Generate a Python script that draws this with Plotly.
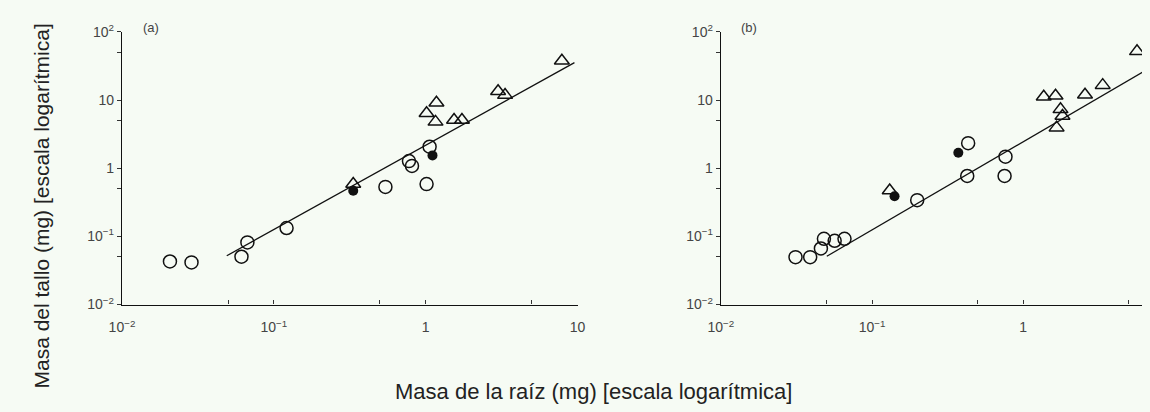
import plotly.graph_objects as go

# ---------------- data (log10 values) ----------------
# Panel (a)
a_circ_x = [-1.684, -1.542, -1.213, -1.174, -0.916, -0.265, -0.110, -0.090, 0.006, 0.026]
a_circ_y = [-1.368, -1.382, -1.298, -1.088, -0.877, -0.274, 0.105, 0.035, -0.232, 0.316]
a_fill_x = [-0.477, 0.045]
a_fill_y = [-0.330, 0.189]
a_tri_x = [-0.477, 0.071, 0.006, 0.065, 0.187, 0.239, 0.477, 0.523, 0.897]
a_tri_y = [-0.232, 0.961, 0.807, 0.681, 0.709, 0.709, 1.130, 1.074, 1.579]
a_line_x = [-1.31, 0.98]
a_line_y = [-1.284, 1.551]

# Panel (b)
b_circ_x = [-1.506, -1.409, -1.338, -1.318, -1.247, -1.182, -0.701, -0.370, -0.123, -0.117, -0.364]
b_circ_y = [-1.305, -1.305, -1.177, -1.035, -1.064, -1.035, -0.468, -0.113, -0.113, 0.170, 0.369]
b_fill_x = [-0.429, -0.851]
b_fill_y = [0.227, -0.411]
b_tri_x = [-0.883, 0.136, 0.214, 0.409, 0.526, 0.753, 0.247, 0.260, 0.221]
b_tri_y = [-0.326, 1.050, 1.064, 1.078, 1.220, 1.716, 0.865, 0.766, 0.596]
b_line_x = [-1.299, 0.80]
b_line_y = [-1.291, 1.424]

y_tickvals = [0.01, 0.1, 1, 10, 100]
y_ticktext = ["10<sup>−2</sup>", "10<sup>−1</sup>", "1", "10", "10<sup>2</sup>"]
y_minorvals = [0.05, 0.5, 5, 50]
x_tickvals = [0.01, 0.1, 1, 10]
x_ticktext = ["10<sup>−2</sup>", "10<sup>−1</sup>", "1", "10"]
x_minorvals = [0.05, 0.5, 5]

title_x = "Masa de la raíz (mg) [escala logarítmica]"
title_y = "Masa del tallo (mg) [escala logarítmica]"

p = lambda v: [10 ** t for t in v]

fig = go.Figure()

def add_panel(xa, ya, cx, cy, fx, fy, tx, ty, lx, ly):
    fig.add_trace(go.Scatter(x=p(lx), y=p(ly), mode="lines",
                             line=dict(color="#111", width=1.3),
                             xaxis=xa, yaxis=ya, showlegend=False))
    fig.add_trace(go.Scatter(x=p(cx), y=p(cy), mode="markers",
                             marker=dict(symbol="circle-open", size=13,
                                         color="#111", line=dict(width=1.5)),
                             xaxis=xa, yaxis=ya, showlegend=False))
    fig.add_trace(go.Scatter(x=p(tx), y=p(ty), mode="markers",
                             marker=dict(symbol="triangle-up-open", size=13,
                                         color="#111", line=dict(width=1.5)),
                             xaxis=xa, yaxis=ya, showlegend=False))
    fig.add_trace(go.Scatter(x=p(fx), y=p(fy), mode="markers",
                             marker=dict(symbol="circle", size=10, color="#111"),
                             xaxis=xa, yaxis=ya, showlegend=False))

add_panel("x", "y", a_circ_x, a_circ_y, a_fill_x, a_fill_y, a_tri_x, a_tri_y, a_line_x, a_line_y)
add_panel("x2", "y2", b_circ_x, b_circ_y, b_fill_x, b_fill_y, b_tri_x, b_tri_y, b_line_x, b_line_y)

W, H = 1150, 412
tickfont = dict(family="Liberation Sans, Arial, sans-serif", size=14, color="#444")

def xaxis(dom, rng):
    return dict(type="log", domain=dom, range=rng, showline=True, linecolor="#111",
                linewidth=1.3, showgrid=False, zeroline=False, ticks="inside",
                ticklen=4, tickcolor="#333", tickmode="array",
                tickvals=x_tickvals, ticktext=x_ticktext,
                minor=dict(tickmode="array", tickvals=x_minorvals, ticks="inside",
                           ticklen=4, tickcolor="#333", showgrid=False),
                tickfont=tickfont, ticklabelstandoff=10)

def yaxis(dom, anchor):
    return dict(type="log", domain=dom, range=[-2, 2], showline=True, linecolor="#111",
                linewidth=1.3, showgrid=False, zeroline=False, ticks="outside",
                ticklen=4, tickcolor="#333", tickmode="array",
                tickvals=y_tickvals, ticktext=y_ticktext,
                minor=dict(tickmode="array", tickvals=y_minorvals, ticks="outside",
                           ticklen=4, tickcolor="#333", showgrid=False),
                tickfont=tickfont, anchor=anchor)

ydom = [1 - 308 / H, 1 - 23 / H]
fig.update_layout(
    width=W, height=H,
    margin=dict(l=0, r=0, t=0, b=0),
    paper_bgcolor="#f6fbf4", plot_bgcolor="#f6fbf4",
    hovermode=False,
    xaxis=dict(xaxis([111 / W, 575 / W], [-2, 1]), anchor="y"),
    yaxis=yaxis(ydom, "x"),
    xaxis2=dict(xaxis([721 / W, 1.0], [-2, 0.786]), anchor="y2"),
    yaxis2=yaxis(ydom, "x2"),
    annotations=[
        dict(text="(a)", x=130 / W, y=1 - 18 / H, xref="paper", yref="paper",
             xanchor="left", yanchor="middle", showarrow=False,
             font=dict(family="Liberation Sans, Arial", size=13, color="#444")),
        dict(text="(b)", x=740 / W, y=1 - 18 / H, xref="paper", yref="paper",
             xanchor="left", yanchor="middle", showarrow=False,
             font=dict(family="Liberation Sans, Arial", size=13, color="#444")),
        dict(text=title_x, x=591 / W, y=1 - 399 / H, xref="paper", yref="paper",
             xanchor="center", yanchor="middle", showarrow=False,
             font=dict(family="Liberation Sans, Arial", size=22, color="#222")),
        dict(text=title_y, x=29 / W, y=1 - 205 / H, xref="paper", yref="paper",
             xanchor="center", yanchor="middle", showarrow=False, textangle=-90,
             font=dict(family="Liberation Sans, Arial", size=21, color="#222")),
    ],
)

fig.write_html("out.html", config={"displayModeBar": False},
               post_script="document.body.style.margin='0';document.body.style.overflow='hidden';")
